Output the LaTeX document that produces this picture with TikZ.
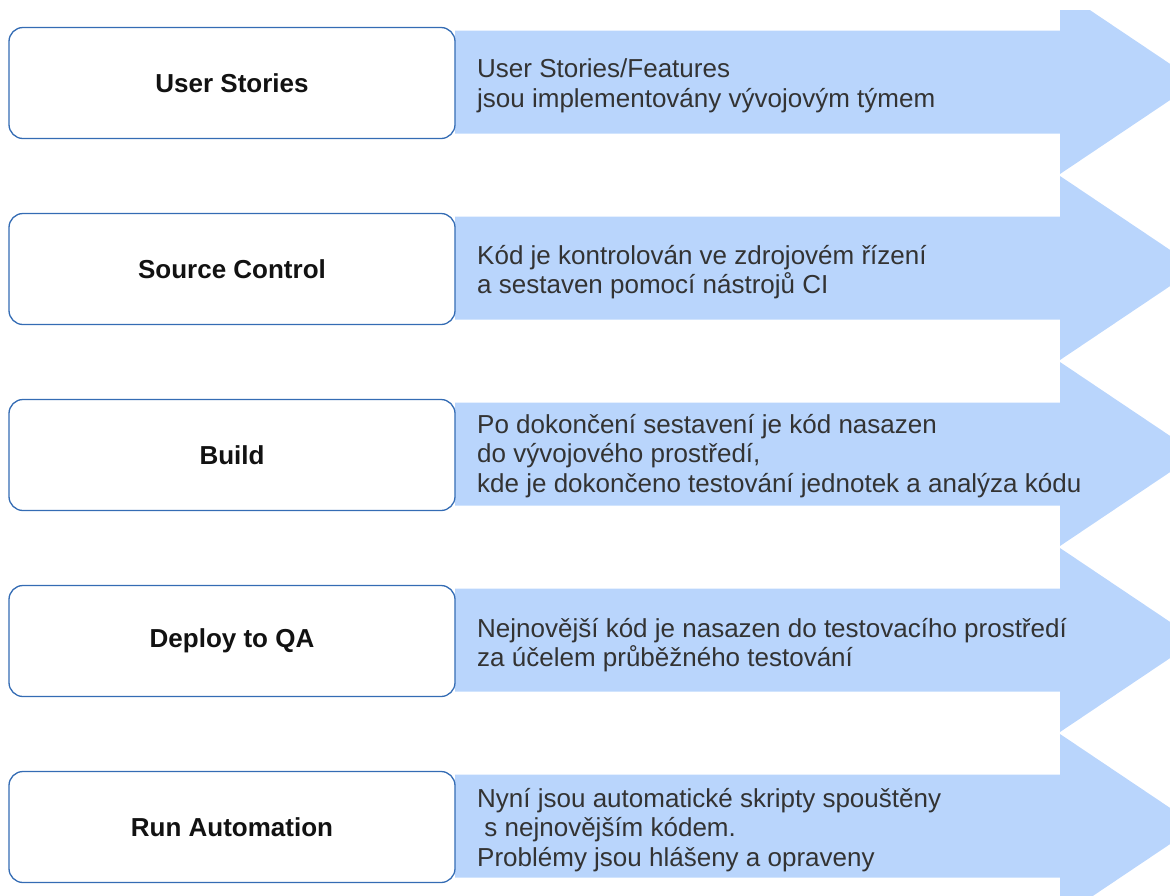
\documentclass[tikz,border=0pt]{standalone}
\usepackage{fontspec}
\setmainfont{Liberation Sans}
\definecolor{pasmo}{RGB}{185,213,252}
\definecolor{okraj}{RGB}{52,108,180}
\definecolor{popis}{RGB}{51,51,51}
\begin{document}
\begin{tikzpicture}[x=1pt, y=-1pt,
  krok/.style={draw=okraj, line width=1.3pt, rounded corners=14pt, fill=white, minimum width=446pt, minimum height=111pt, inner sep=0pt, font=\fontsize{26}{29.5}\selectfont\bfseries, text=black!93},
  popisek/.style={anchor=west, align=left, inner sep=0pt, text=popis, font=\fontsize{26}{29.5}\selectfont}
]
\useasboundingbox (0,0) rectangle (1170,895);

% arrows behind the steps
\begin{scope}
\clip (0,10) rectangle (1170,895);
\foreach \y in {82,268,454,640,826}
  \fill[pasmo] (455,\y-51.5) -- (1060,\y-51.5) -- (1060,\y-92) -- (1197,\y) -- (1060,\y+92) -- (1060,\y+51.5) -- (455,\y+51.5) -- cycle;
\end{scope}

\node[krok] (stories) at (232,83)     {User Stories};
\node[krok] (source) at (232,269)     {Source Control};
\node[krok] (build) at (232,455)      {Build};
\node[krok] (deploy) at (232,641)     {Deploy to QA};
\node[krok] (automation) at (232,827) {Run Automation};

\node[popisek] (stories-text) at (477,86)     {User Stories/Features\\jsou implementovány vývojovým týmem};
\node[popisek] (source-text) at (477,272)     {Kód je kontrolován ve zdrojovém řízení\\a sestaven pomocí nástrojů CI};
\node[popisek] (build-text) at (477,456)      {Po dokončení sestavení je kód nasazen\\do vývojového prostředí,\\kde je dokončeno testování jednotek a analýza kódu};
\node[popisek] (deploy-text) at (477,645)     {Nejnovější kód je nasazen do testovacího prostředí\\za účelem průběžného testování};
\node[popisek] (automation-text) at (477,830) {Nyní jsou automatické skripty spouštěny\\\hspace*{0.28em}s nejnovějším kódem.\\Problémy jsou hlášeny a opraveny};
\end{tikzpicture}
\end{document}
